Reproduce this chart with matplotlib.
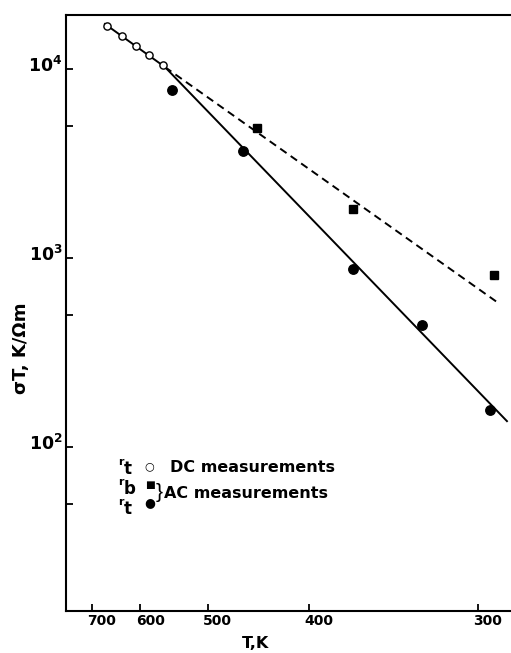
import numpy as np
import matplotlib
matplotlib.use('Agg')
import matplotlib.pyplot as plt
from matplotlib.transforms import ScaledTranslation, blended_transform_factory

plt.rcParams['font.family'] = ['DejaVu Sans']
plt.rcParams['font.weight'] = 'bold'
plt.rcParams['mathtext.fontset'] = 'custom'
plt.rcParams['mathtext.rm'] = 'DejaVu Sans:bold'
plt.rcParams['mathtext.bf'] = 'DejaVu Sans:bold'
plt.rcParams['mathtext.it'] = 'DejaVu Sans:bold'

# DC measurements (open circles)
dc_T = [665, 635, 607, 584, 562]
dc_sT = [16950, 15000, 13330, 11860, 10540]
# AC measurements, r_t (filled circles)
ac_t_T = [548.5, 460, 368, 327, 294.5]
ac_t_sT = [7770, 3700, 875, 446, 158]
# AC measurements, r_b (filled squares)
ac_b_T = [446, 368, 293]
ac_b_sT = [4890, 1815, 813]

# fitted lines
dc_fit_T = [670, 559]
dc_fit_sT = [17370, 10280]
rb_fit_T = [559, 290.5]
rb_fit_sT = [10280, 573]
rt_fit_T = [559, 287.6]
rt_fit_sT = [10280, 137.8]

t_ticks = [700, 600, 500, 400, 300]
y_major = [1e2, 1e3, 1e4]
y_minor = [50, 500, 5000]


def inv(T):
    return 1000.0 / np.asarray(T, dtype=float)


fig = plt.figure(figsize=(5.11, 6.53), dpi=100)
ax = fig.add_axes([0.129, 0.0648, 0.869, 0.9127])

ax.plot(inv(dc_fit_T), dc_fit_sT, color='k', lw=1.4)
ax.plot(inv(rb_fit_T), rb_fit_sT, color='k', lw=1.4, linestyle=(0, (4, 2.6)))
ax.plot(inv(rt_fit_T), rt_fit_sT, color='k', lw=1.4)

ax.plot(inv(dc_T), dc_sT, 'o', ms=5.2, mfc='white', mec='k', mew=1.0)
ax.plot(inv(ac_t_T), ac_t_sT, 'o', ms=6.8, color='k')
ax.plot(inv(ac_b_T), ac_b_sT, 's', ms=5.6, color='k')

ax.set_yscale('log')
ax.set_xlim(1.300, 3.492)
ax.set_ylim(13.7, 19450)

ax.set_xticks(inv(t_ticks))
ax.set_xticklabels([])
ax.set_yticks(y_major)
ax.set_yticklabels([])
ax.set_yticks(y_minor, minor=True)
ax.yaxis.set_minor_formatter(matplotlib.ticker.NullFormatter())

ax.tick_params(which='both', direction='in', length=5, width=1.3)

# tick labels, sitting slightly off their ticks as in the original
xt = blended_transform_factory(ax.transData, ax.transAxes)
for t in t_ticks:
    ax.text(inv(t), -0.006, str(t), transform=xt + ScaledTranslation(0.10, 0, fig.dpi_scale_trans),
            ha='center', va='top', fontsize=10, fontweight='bold')
yt = blended_transform_factory(ax.transAxes, ax.transData)
for v in y_major:
    ax.text(-0.008, v, r'$\mathbf{10^{%d}}$' % int(np.log10(v)),
            transform=yt + ScaledTranslation(0, -0.03, fig.dpi_scale_trans),
            ha='right', va='baseline', fontsize=12.5)

for s in ['left', 'bottom', 'top']:
    ax.spines[s].set_linewidth(1.5)
ax.spines['right'].set_visible(False)

ax.set_xlabel('T,K', fontsize=11.5, fontweight='bold')
ax.xaxis.set_label_coords(0.426, -0.042)
ax.set_ylabel(r'σT, K/Ωm', fontsize=13, fontweight='bold')
ax.yaxis.set_label_coords(-0.082, 0.44)

# legend block
def px(x, y):
    return x / 511.0, 1 - y / 653.0

for yr, sub in [(462, 't'), (482, 'b'), (502, 't')]:
    fig.text(*px(118, yr), 'r', fontsize=8, va='center')
    fig.text(*px(124, yr + 7), sub, fontsize=12, va='center')
fig.text(*px(144, 466), '○', fontsize=8, va='center')
fig.text(*px(145, 485), '■', fontsize=7.5, va='center')
fig.text(*px(144, 503), '●', fontsize=9, va='center')
fig.text(*px(156, 493), '}', fontsize=15, va='center', fontweight='normal',
         family=['Liberation Sans'])
fig.text(*px(170, 467), 'DC measurements', fontsize=11.5, va='center')
fig.text(*px(164, 494), 'AC measurements', fontsize=11.5, va='center')

fig.savefig('out.png', dpi=100)
